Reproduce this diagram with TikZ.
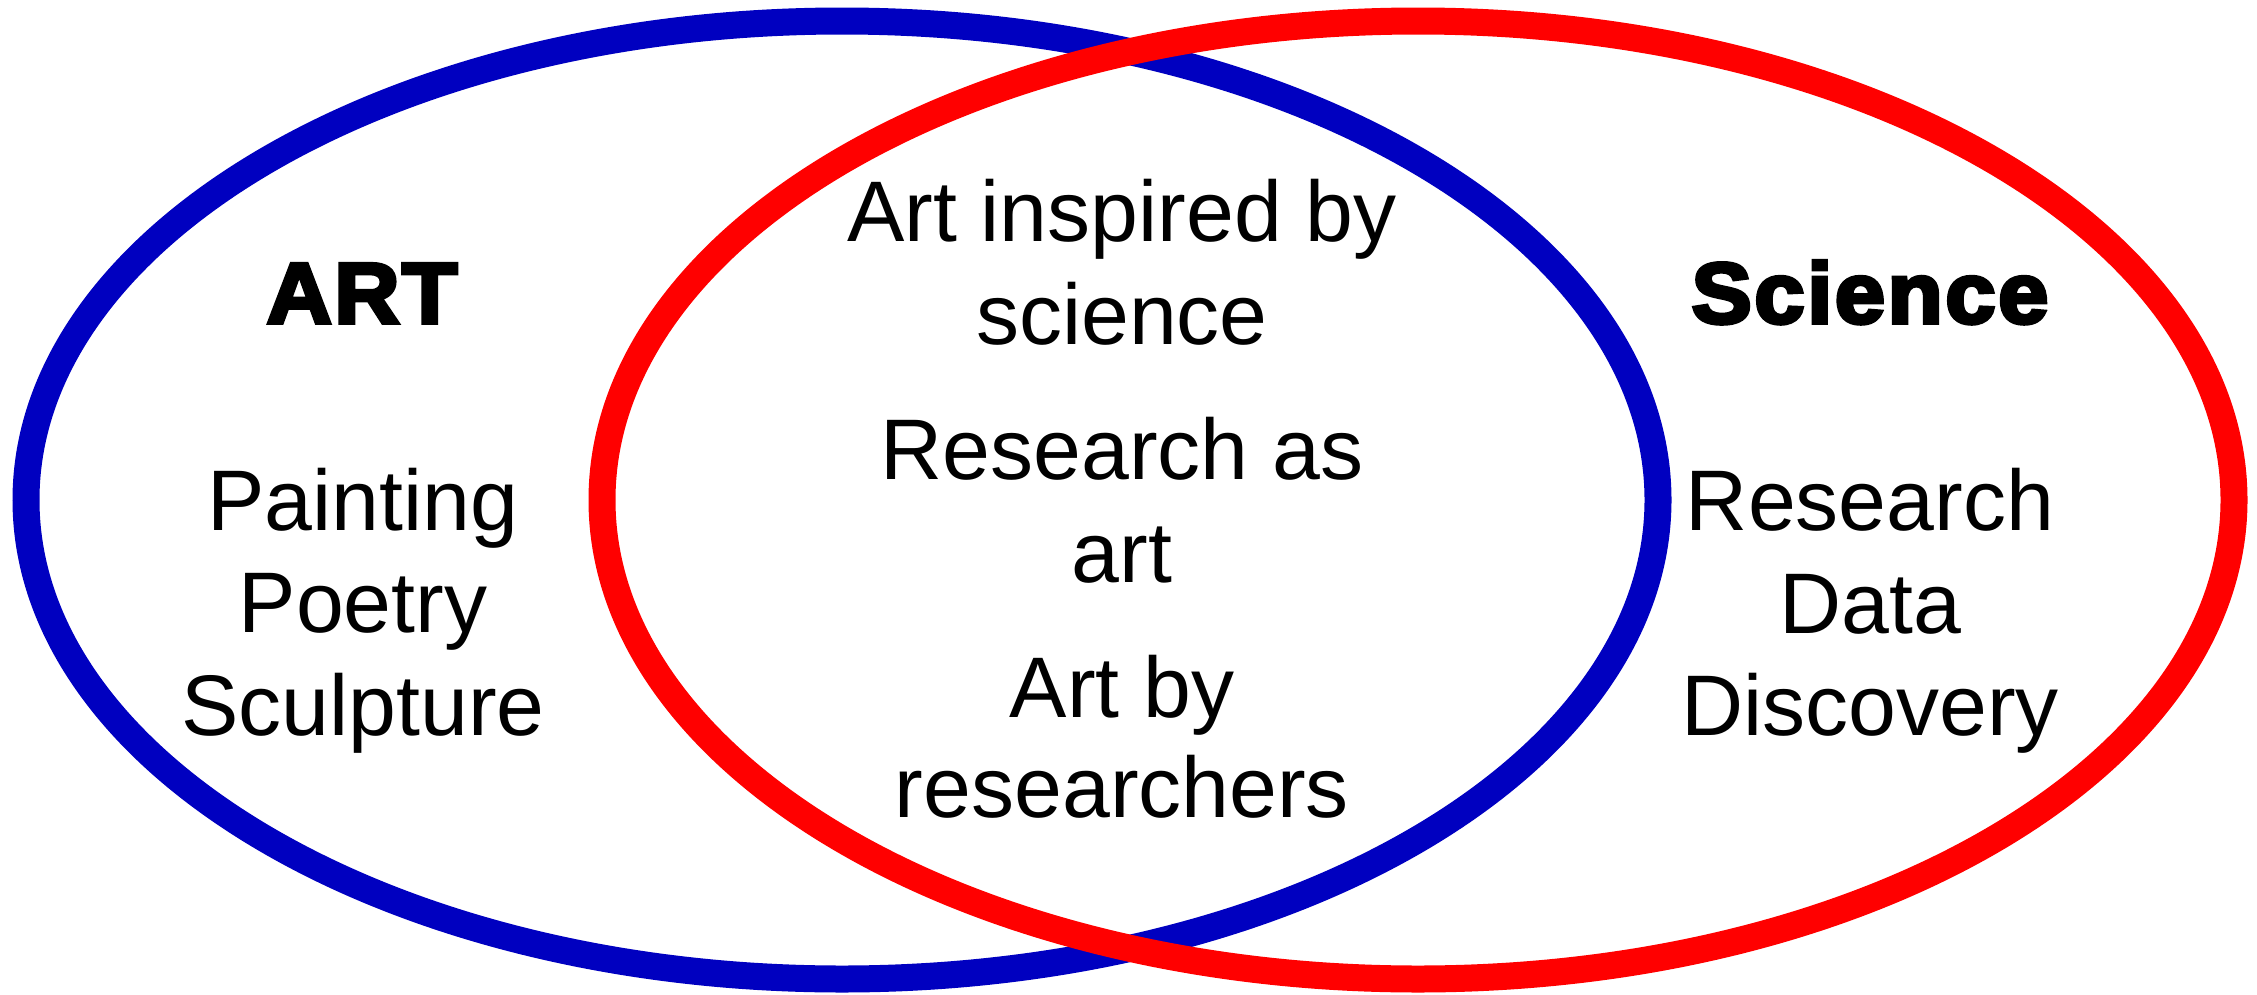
\documentclass[tikz,border=0pt]{standalone}
\usepackage{fontspec}
\setmainfont{Liberation Sans}
\newfontfamily\headfont[FakeStretch=1.05,LetterSpace=3,BoldFeatures={FakeBold=4.5}]{Liberation Sans}
\definecolor{artblue}{RGB}{0,0,192}
\definecolor{scired}{RGB}{255,0,0}
\tikzset{
  ring/.style={line width=27pt},
  bigtxt/.style={anchor=base,inner sep=0pt,font=\fontsize{86}{103}\selectfont},
  headtxt/.style={anchor=base,inner sep=0pt,font=\headfont\bfseries\fontsize{86}{103}\selectfont},
}
\begin{document}
\begin{tikzpicture}[x=1pt,y=-1pt]
\useasboundingbox (0,0) rectangle (2257,994);
\draw[ring,artblue] (842,500) ellipse [x radius=816, y radius=479];
\draw[ring,scired] (1418,500) ellipse [x radius=816, y radius=479];
% left
\node[headtxt] (art) at (362,323) {ART};
\node[bigtxt] (l1) at (363,530) {Painting};
\node[bigtxt] (l2) at (363,632) {Poetry};
\node[bigtxt] (l3) at (363,735) {Sculpture};
% right
\node[headtxt] (sci) at (1870,323) {Science};
\node[bigtxt] (r1) at (1870,530) {Research};
\node[bigtxt] (r2) at (1870,633) {Data};
\node[bigtxt] (r3) at (1870,735) {Discovery};
% middle
\node[bigtxt] (m1) at (1122,241) {Art inspired by};
\node[bigtxt] (m2) at (1122,344) {science};
\node[bigtxt] (m3) at (1122,479) {Research as};
\node[bigtxt] (m4) at (1122,582) {art};
\node[bigtxt] (m5) at (1122,717) {Art by};
\node[bigtxt] (m6) at (1122,817) {researchers};
\end{tikzpicture}
\end{document}
